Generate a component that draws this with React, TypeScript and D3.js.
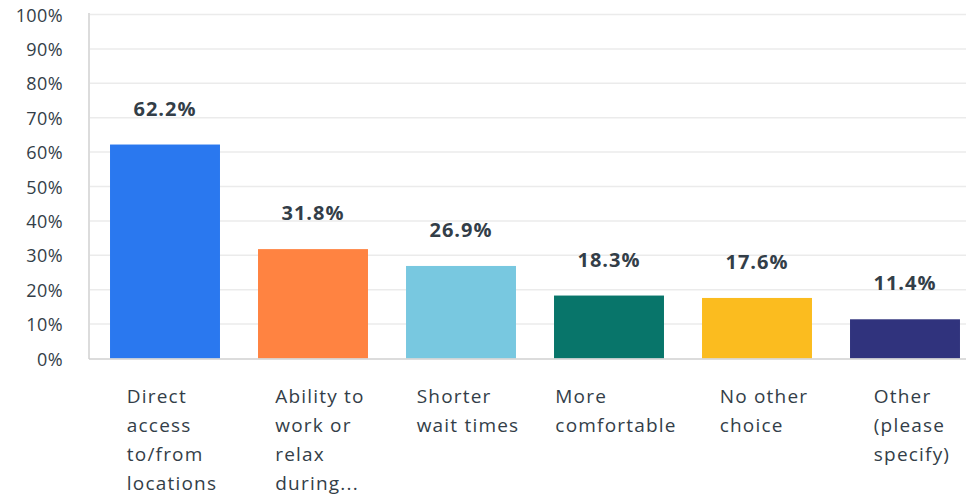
import React from "react";
import * as d3 from "d3";

const categories = [
  ["Direct", "access", "to/from", "locations"],
  ["Ability to", "work or", "relax", "during..."],
  ["Shorter", "wait times"],
  ["More", "comfortable"],
  ["No other", "choice"],
  ["Other", "(please", "specify)"],
];
const values = [62.2, 31.8, 26.9, 18.3, 17.6, 11.4];
const colors = ["#2a78ef", "#ff8341", "#78c8e0", "#08756a", "#fbbc1f", "#30337d"];
const yTicks = [0, 10, 20, 30, 40, 50, 60, 70, 80, 90, 100];

const W = 966;
const H = 496;
const FONT = "'Open Sans', sans-serif";
const TEXT = "#333e48";
const CAT_SIZE = 19;
const CAT_SPACING = 1.2;

function measure(s: string, font: string, spacing: number) {
  const c = document.createElement("canvas").getContext("2d");
  if (!c) return s.length * 10;
  c.font = font;
  return c.measureText(s).width + spacing * s.length;
}

export default function App() {
  const x = d3
    .scaleBand<number>()
    .domain(d3.range(values.length))
    .range([91, 979])
    .paddingInner(0.257)
    .paddingOuter(0.1285);
  const y = d3.scaleLinear().domain([0, 100]).range([358.5, 14.5]);

  return (
    <svg width={W} height={H} style={{ position: "absolute", left: 0, top: 0 }}>
      {yTicks.map((t) => (
        <g key={t}>
          {t > 0 && (
            <line x1={90} x2={W} y1={y(t)} y2={y(t)} stroke="#ebebeb" strokeWidth={1.5} />
          )}
          <text
            x={63}
            y={y(t) + 7}
            textAnchor="end"
            fontFamily={FONT}
            fontSize={18}
            letterSpacing={0.4}
            fill={TEXT}
          >
            {t}%
          </text>
        </g>
      ))}
      <line x1={89} x2={89} y1={13} y2={359} stroke="#d0d0d0" strokeWidth={1.5} />
      {values.map((v, i) => {
        const bx = x(i)!;
        const bw = x.bandwidth();
        const cx = bx + bw / 2;
        const lines = categories[i];
        const maxW = Math.max(
          ...lines.map((l) => measure(l, `${CAT_SIZE}px ${FONT}`, CAT_SPACING))
        );
        const lx = cx - maxW / 2 + 7;
        return (
          <g key={i}>
            <rect x={bx} y={y(v)} width={bw} height={y(0) - y(v)} fill={colors[i]} />
            <text
              x={cx}
              y={y(v) - 29}
              textAnchor="middle"
              fontFamily={FONT}
              fontWeight={700}
              fontSize={20}
              letterSpacing={1}
              fill={TEXT}
            >
              {v.toFixed(1)}%
            </text>
            {lines.map((l, j) => (
              <text
                key={j}
                x={lx}
                y={403 + j * 29}
                fontFamily={FONT}
                fontSize={CAT_SIZE}
                letterSpacing={CAT_SPACING}
                fill={TEXT}
              >
                {l}
              </text>
            ))}
          </g>
        );
      })}
      <line x1={89} x2={W} y1={359} y2={359} stroke="#d0d0d0" strokeWidth={1.5} />
    </svg>
  );
}
